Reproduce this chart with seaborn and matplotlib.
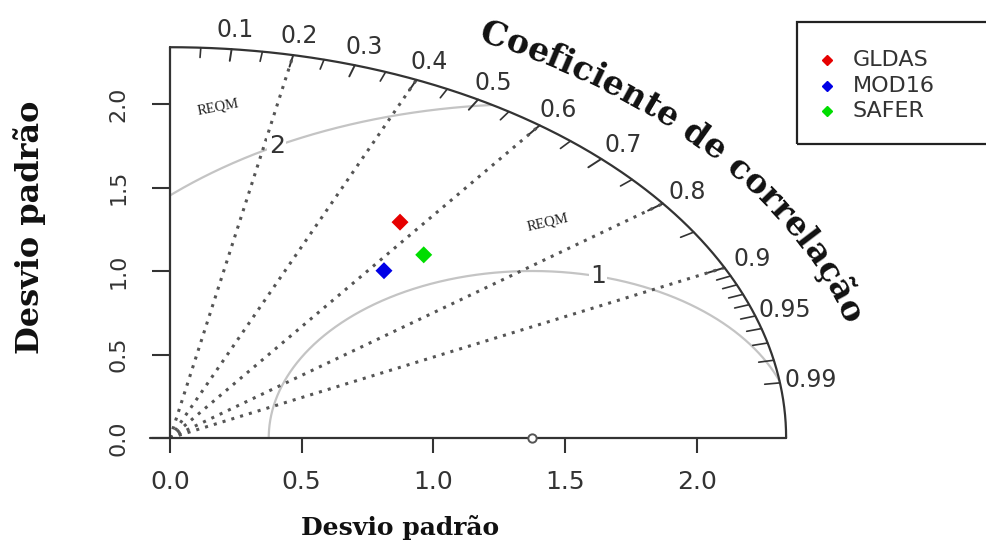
import numpy as np
import pandas as pd
import matplotlib
matplotlib.use("Agg")
import matplotlib.pyplot as plt
import seaborn as sns
from matplotlib.font_manager import FontProperties
from matplotlib.patches import Rectangle
from matplotlib.lines import Line2D

# ---------------- data ----------------
models = ["GLDAS", "MOD16", "SAFER"]
std_devs = [1.56, 1.29, 1.46]
correlations = [0.56, 0.63, 0.66]
colors = ["#e60000", "#0000e6", "#00dd00"]
ref_sd = 1.375
max_sd = 2.34
rms_levels = [1, 2]
rms_label_angles = [75.5, 119.0]
sd_ticks = [0.0, 0.5, 1.0, 1.5, 2.0]
sd_tick_labels = ["0.0", "0.5", "1.0", "1.5", "2.0"]
cor_labels = [0.1, 0.2, 0.3, 0.4, 0.5, 0.6, 0.7, 0.8, 0.9, 0.95, 0.99]
cor_lines = [0.2, 0.4, 0.6, 0.8, 0.9]
cor_ticks_major = [0.1, 0.2, 0.3, 0.4, 0.5, 0.6, 0.7, 0.8, 0.9]
cor_ticks_minor = [0.05, 0.15, 0.25, 0.35, 0.45, 0.55, 0.65, 0.75, 0.85,
                   0.91, 0.92, 0.93, 0.94, 0.95, 0.96, 0.97, 0.98, 0.99]
axis_title = "Desvio padrão"
cor_title = "Coeficiente de correlação"
rmse_text = "REQM"

sns.set_theme(style="white")
plt.rcParams["font.family"] = ["DejaVu Sans"]

fig = plt.figure(figsize=(9.86, 5.5), dpi=100)
ax = fig.add_axes([170 / 986, (550 - 438) / 550, (max_sd * 263.3) / 986, (max_sd * 167) / 550])
ax.set_xlim(0, max_sd)
ax.set_ylim(0, max_sd)
for sp in ax.spines.values():
    sp.set_visible(False)

dark = "#333333"

# axes lines
ax.plot([0, 0], [0, max_sd], color=dark, lw=1.6, clip_on=False, zorder=3)
ax.plot([-0.076, max_sd], [0, 0], color=dark, lw=1.6, clip_on=False, zorder=3)

# outer arc
th = np.linspace(0, np.pi / 2, 400)
ax.plot(max_sd * np.cos(th), max_sd * np.sin(th), color=dark, lw=1.6, clip_on=False, zorder=3)

# correlation ticks on arc
for c in cor_ticks_major:
    a = np.arccos(c)
    ax.plot([max_sd * np.cos(a), 0.97 * max_sd * np.cos(a)],
            [max_sd * np.sin(a), 0.97 * max_sd * np.sin(a)], color=dark, lw=1.4, clip_on=False)
for c in cor_ticks_minor:
    a = np.arccos(c)
    ax.plot([max_sd * np.cos(a), 0.975 * max_sd * np.cos(a)],
            [max_sd * np.sin(a), 0.975 * max_sd * np.sin(a)], color=dark, lw=1.2, clip_on=False)

# correlation labels
for c in cor_labels:
    a = np.arccos(c)
    ax.text(1.05 * max_sd * np.cos(a), 1.05 * max_sd * np.sin(a), f"{c:g}",
            ha="center", va="center", fontsize=17, color=dark, clip_on=False)

# radial dotted lines
for c in cor_lines:
    a = np.arccos(c)
    ax.plot([0, max_sd * np.cos(a)], [0, max_sd * np.sin(a)], color="#555555",
            lw=2.2, linestyle=(0, (1, 2)), zorder=2)

# RMS (REQM) circles around reference
phi = np.linspace(0, np.pi, 2000)
for lev, lab_ang in zip(rms_levels, rms_label_angles):
    cx = ref_sd + lev * np.cos(phi)
    cy = lev * np.sin(phi)
    ok = (np.hypot(cx, cy) <= max_sd) & (cx >= 0)
    cx = np.where(ok, cx, np.nan)
    cy = np.where(ok, cy, np.nan)
    ax.plot(cx, cy, color="#c4c4c4", lw=1.6, zorder=1)
    la = np.radians(lab_ang)
    ax.text(ref_sd + lev * np.cos(la), lev * np.sin(la), str(lev), fontsize=18,
            color=dark, ha="center", va="center", zorder=4,
            bbox=dict(boxstyle="square,pad=0.05", fc="white", ec="none"))

# REQM labels
ax.text(0.182, 1.98, rmse_text, fontsize=10.5, family="Liberation Serif", rotation=11,
        ha="center", va="center", color="#222222")
ax.text(1.435, 1.293, rmse_text, fontsize=10.5, family="Liberation Serif", rotation=13,
        ha="center", va="center", color="#222222")

# reference point
ax.plot([ref_sd], [0], marker="o", ms=6, mfc="white", mec="#555555", mew=1.4,
        clip_on=False, zorder=5)

# model points
df = pd.DataFrame({
    "model": models,
    "x": np.array(std_devs) * np.array(correlations),
    "y": np.array(std_devs) * np.sqrt(1 - np.array(correlations) ** 2),
})
sns.scatterplot(data=df, x="x", y="y", hue="model", palette=dict(zip(models, colors)),
                marker="D", s=75, linewidth=0, legend=False, ax=ax, zorder=6)

# ticks
ax.set_xticks(sd_ticks)
ax.set_xticklabels(sd_tick_labels)
ax.set_yticks(sd_ticks)
ax.set_yticklabels(sd_tick_labels, rotation=90, va="center")
ax.tick_params(axis="x", direction="out", length=11, width=1.5, pad=12,
               labelsize=18, colors=dark, bottom=True)
ax.tick_params(axis="y", direction="out", length=13, width=1.5, pad=17,
               labelsize=16, colors=dark, left=True)
ax.set_xlabel("")
ax.set_ylabel("")

# axis titles
fig.text(400 / 986, 1 - 528 / 550, axis_title, ha="center", va="center",
         family="DejaVu Serif", weight="bold", fontsize=18, color="#111111")
fig.text(30 / 986, 1 - 227 / 550, axis_title, ha="center", va="center", rotation=90,
         family="DejaVu Serif", weight="bold", fontsize=23, color="#111111")

# legend (manual)
fig.add_artist(Rectangle((797 / 986, 1 - 144 / 550), 0.3, 122 / 550,
                         transform=fig.transFigure, fill=False, ec="#222222", lw=1.6,
                         clip_on=False))
for i, (m, c) in enumerate(zip(models, colors)):
    yy = 1 - (60 + 25.5 * i) / 550
    fig.add_artist(Line2D([827 / 986], [yy], marker="D", ms=5.5, color=c, ls="",
                          transform=fig.transFigure))
    fig.text(853 / 986, yy, m, ha="left", va="center", fontsize=16, color=dark)

# curved correlation title
fig.canvas.draw()
renderer = fig.canvas.get_renderer()
fp = FontProperties(family="DejaVu Serif", weight="bold", size=24)


def tw(s):
    return renderer.get_text_width_height_descent(s, fp, ismath=False)[0]


r_lab = 2.65
thetas = np.linspace(np.radians(80), np.radians(-10), 4000)
pts = ax.transData.transform(np.c_[r_lab * np.cos(thetas), r_lab * np.sin(thetas)])
seg = np.hypot(np.diff(pts[:, 0]), np.diff(pts[:, 1]))
arcs = np.concatenate([[0], np.cumsum(seg)])
s_start = np.interp(np.radians(-63.8), -thetas, arcs)
ref_w = tw("l")
lefts = [tw(cor_title[:i] + "l") - ref_w if i > 0 else 0.0 for i in range(len(cor_title) + 1)]
for i, ch in enumerate(cor_title):
    if ch == " ":
        continue
    sc = s_start + 0.5 * (lefts[i] + lefts[i + 1])
    t = np.interp(sc, arcs, thetas)
    p1 = ax.transData.transform((r_lab * np.cos(t + 0.002), r_lab * np.sin(t + 0.002)))
    p2 = ax.transData.transform((r_lab * np.cos(t - 0.002), r_lab * np.sin(t - 0.002)))
    rot = np.degrees(np.arctan2(p2[1] - p1[1], p2[0] - p1[0]))
    ax.text(r_lab * np.cos(t), r_lab * np.sin(t), ch, fontproperties=fp, rotation=rot,
            rotation_mode="anchor", ha="center", va="baseline", color="#111111",
            clip_on=False)

fig.savefig("out.png", dpi=100)
